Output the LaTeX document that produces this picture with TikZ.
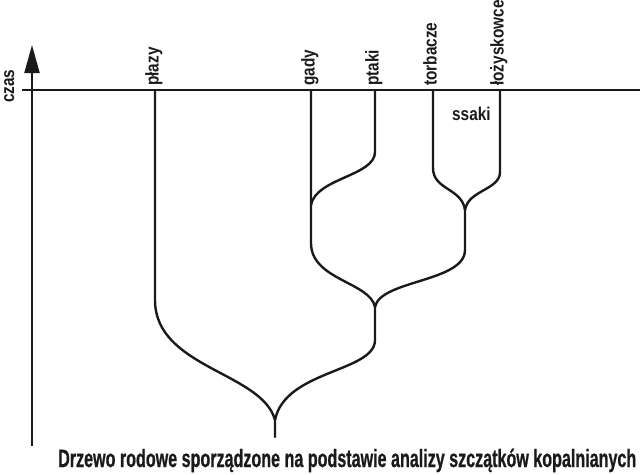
\documentclass[tikz,border=0pt]{standalone}
\usepackage{fontspec}
\usetikzlibrary{arrows.meta}
\newfontfamily\labfont[FakeStretch=0.83]{Liberation Sans Bold}
\newfontfamily\capfont[FakeStretch=0.64,FakeBold=0.6]{Liberation Sans Bold}
\definecolor{ink}{HTML}{1A1A1A}
\begin{document}
\begin{tikzpicture}[x=1pt,y=-1pt,
  branch/.style={line width=2.4pt, line cap=round, line join=round, draw=ink},
  axisline/.style={line width=2pt, draw=ink},
  vlabel/.style={font={\labfont\fontsize{18.5pt}{18.5pt}\selectfont}, text=ink, rotate=90, anchor=base west, inner sep=0pt},
  hlabel/.style={font={\labfont\fontsize{18.5pt}{18.5pt}\selectfont}, text=ink, anchor=base west, inner sep=0pt},
  caption/.style={font={\capfont\fontsize{25pt}{25pt}\selectfont}, text=ink, anchor=base west, inner sep=0pt}]
\useasboundingbox (0,0) rectangle (640,474);
% axes
\coordinate (axB) at (32,446);
\coordinate (axT) at (32,45);
\coordinate (hL) at (22,90);
\coordinate (hR) at (640,90);
\draw[axisline, -{Triangle[length=28pt,width=15pt]}] (axB) -- (axT);
\draw[axisline] (hL) -- (hR);
\node[vlabel] (czas) at (14,103) {czas};
% tree points
\coordinate (pT) at (155,90);
\coordinate (pB) at (155,300);
\coordinate (gT) at (311,90);
\coordinate (gJ) at (311,205);
\coordinate (gB) at (311,243);
\coordinate (ptT) at (375,90);
\coordinate (ptB) at (375,152);
\coordinate (tT) at (433,90);
\coordinate (tB) at (433,168);
\coordinate (lT) at (500,90);
\coordinate (lB) at (500,172);
\coordinate (sJ) at (465,210);
\coordinate (sB) at (465,250);
\coordinate (rJ) at (375,307);
\coordinate (rB) at (375,340);
\coordinate (root) at (275,420);
\coordinate (rootB) at (275,437);
% branches
\draw[branch] (pT) -- (pB) .. controls (155,368) and (262,372) .. (root) -- (rootB);
\draw[branch] (gT) -- (gB) .. controls (311,280) and (370,282) .. (rJ);
\draw[branch] (ptT) -- (ptB) .. controls (375,176) and (316,178) .. (gJ);
\draw[branch] (tT) -- (tB) .. controls (433,190) and (462,188) .. (sJ) -- (sB)
  .. controls (465,282) and (380,280) .. (rJ) -- (rB)
  .. controls (375,372) and (285,370) .. (root);
\draw[branch] (lT) -- (lB) .. controls (500,190) and (468,190) .. (sJ);
% labels
\node[vlabel] (plazy) at (158.5,86) {płazy};
\node[vlabel] (gady) at (314.5,86) {gady};
\node[vlabel] (ptaki) at (378.5,86) {ptaki};
\node[vlabel] (torbacze) at (436.5,86) {torbacze};
\node[vlabel] (lozysk) at (503.5,86) {łożyskowce};
\node[hlabel] (ssaki) at (452,120) {ssaki};
\node[caption] (cap) at (58,467) {\resizebox{578pt}{\height}{Drzewo rodowe sporządzone na podstawie analizy szczątków kopalnianych}};
\end{tikzpicture}
\end{document}
